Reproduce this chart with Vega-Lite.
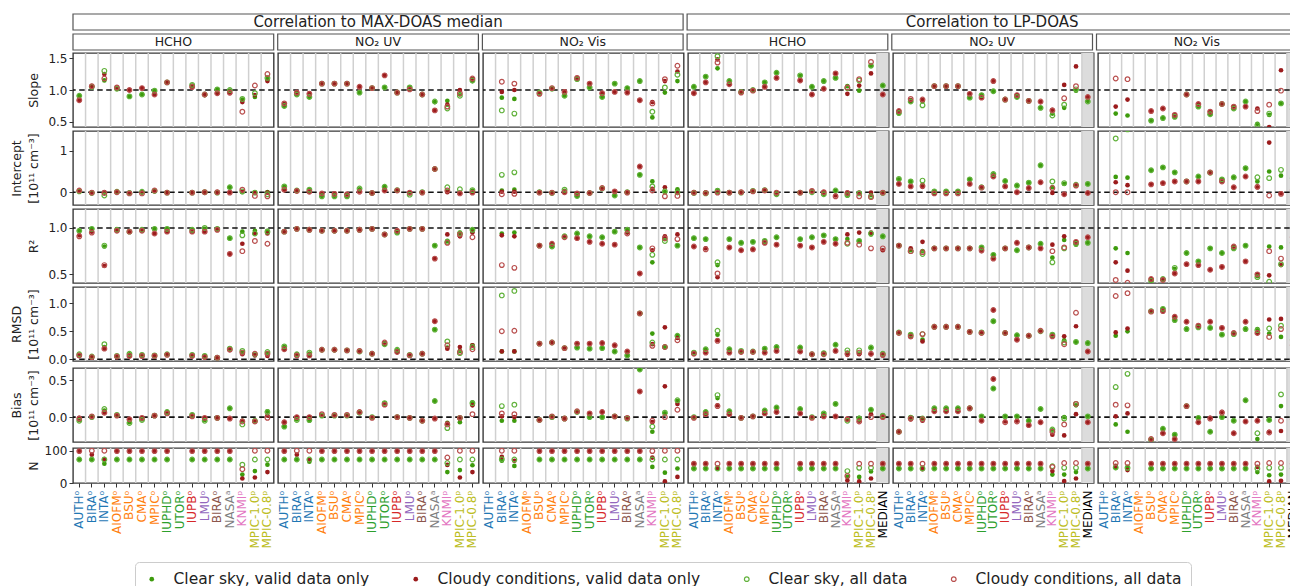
{
"$schema": "https://vega.github.io/schema/vega-lite/v6.json",
"padding": {"left": 10, "top": 13, "right": 0, "bottom": 0},
"data": {"values": "m;p;c;Clear sky, valid data only;Cloudy conditions, valid data only;Clear sky, all data;Cloudy conditions, all data\nS;1;A;.91;.84;.91;.84\nS;1;B;1.05;1.06;1.05;1.06\nS;1;C;1.15;1.25;1.3;1.18\nS;1;D;1.02;1.04;1.02;1.04\nS;1;E;.9;1;.9;1\nS;1;F;.93;1.03;.93;1.03\nS;1;G;.99;.93;.99;.93\nS;1;H;1.12;1.12;1.12;1.12\nS;1;I;;;;\nS;1;J;1.07;1.04;1.08;1.05\nS;1;K;.93;.92;.93;.93\nS;1;L;1.01;.95;1.01;.95\nS;1;M;.99;.95;1;.96\nS;1;N;.85;.81;.86;.66\nS;1;O;.89;.92;.95;1.07\nS;1;P;1.17;1.14;1.19;1.25\nS;2;A;.75;.78;.75;.79\nS;2;B;.93;.96;.93;.96\nS;2;C;.89;.95;.89;.94\nS;2;D;1.1;1.1;1.1;1.1\nS;2;E;1.1;1.1;1.1;1.1\nS;2;F;1.1;1.1;1.1;1.1\nS;2;G;.96;1.05;.96;1.05\nS;2;H;1.03;1.03;1.03;1.03\nS;2;I;1.04;1.23;1.04;1.23\nS;2;J;.96;.96;.96;.96\nS;2;K;1.04;1.01;1.04;1.01\nS;2;L;.93;.93;.93;.93\nS;2;M;.81;.68;.82;.68\nS;2;N;.83;.77;.71;.74\nS;2;O;.93;1;.91;.95\nS;2;P;1.14;1.17;1.15;1.18\nS;3;A;;;;\nS;3;B;.88;.97;.68;1.13\nS;3;C;.86;1;.63;1.1\nS;3;D;;;;\nS;3;E;.96;.94;.96;.94\nS;3;F;1.02;1.03;1.02;1.03\nS;3;G;.91;.98;.91;.97\nS;3;H;1.17;1.19;1.17;1.19\nS;3;I;1.04;1.1;1.04;1.1\nS;3;J;.89;.95;.89;.95\nS;3;K;1.1;.97;1.1;.97\nS;3;L;1.03;.96;1.03;.96\nS;3;M;1.14;.84;1.14;.84\nS;3;N;.57;.81;.66;.79\nS;3;O;.96;1.14;1.04;1.17\nS;3;P;1.14;1.29;1.24;1.38\nS;4;A;1.05;.95;1.05;.95\nS;4;B;1.21;1.12;1.21;1.12\nS;4;C;1.34;1.48;1.53;1.43\nS;4;D;1.14;1.09;1.14;1.09\nS;4;E;.97;.96;.97;.96\nS;4;F;1;.99;1;.99\nS;4;G;1.12;1.05;1.12;1.05\nS;4;H;1.27;1.19;1.27;1.19\nS;4;I;;;;\nS;4;J;1.22;1.15;1.23;1.15\nS;4;K;1.05;.93;1.05;.93\nS;4;L;1.14;1.02;1.14;1.02\nS;4;M;1.19;1.26;1.19;1.26\nS;4;N;1.06;.94;1.03;1.04\nS;4;O;.99;1.07;1.15;1.17\nS;4;P;1.38;1.26;1.38;1.44\nS;4;Q;1.07;.93;1.07;.93\nS;5;A;.63;.67;.64;.67\nS;5;B;.82;.84;.82;.86\nS;5;C;.82;.84;.76;.85\nS;5;D;1.06;1.06;1.06;1.06\nS;5;E;1.06;1.06;1.06;1.06\nS;5;F;1.06;1.06;1.06;1.06\nS;5;G;.88;.94;.88;.94\nS;5;H;.92;.88;.92;.88\nS;5;I;.98;1.14;.98;1.14\nS;5;J;.85;.85;.85;.85\nS;5;K;.89;.92;.89;.92\nS;5;L;.83;.83;.83;.83\nS;5;M;.72;.81;.72;.82\nS;5;N;.63;.69;.6;.68\nS;5;O;.72;1.08;.77;.87\nS;5;P;.99;1.37;1.01;1.06\nS;5;Q;.83;.89;.82;.89\nS;6;A;;;;\nS;6;B;.63;.74;.3;1.18\nS;6;C;.6;.85;.3;1.17\nS;6;D;;;;\nS;6;E;.52;.67;.52;.67\nS;6;F;.56;.71;.56;.71\nS;6;G;.58;.61;.58;.61\nS;6;H;.93;.93;.93;.93\nS;6;I;.74;.78;.74;.78\nS;6;J;.62;.66;.62;.66\nS;6;K;.78;.78;.78;.78\nS;6;L;.71;.74;.71;.74\nS;6;M;.82;.74;.82;.74\nS;6;N;.47;.71;.45;.67\nS;6;O;.61;.42;.63;.77\nS;6;P;.79;1.31;.79;.99\nS;6;Q;.7;.77;.7;.77\nI;1;A;.03;.04;.02;.04\nI;1;B;-.01;-.01;-.02;-.01\nI;1;C;-.01;0;-.08;-.02\nI;1;D;.01;0;.01;0\nI;1;E;-.02;-.01;-.02;-.03\nI;1;F;0;-.01;.01;-.03\nI;1;G;.03;.04;.03;.04\nI;1;H;-.01;-.01;-.01;-.01\nI;1;I;;;;\nI;1;J;-.01;-.01;-.01;-.01\nI;1;K;-.01;0;0;0\nI;1;L;-.01;0;-.01;0\nI;1;M;.12;0;.12;-.01\nI;1;N;0;.01;.02;.06\nI;1;O;-.01;-.01;-.01;-.09\nI;1;P;0;-.01;-.05;-.1\nI;2;A;.13;.06;.14;.06\nI;2;B;.04;.03;.04;.03\nI;2;C;.05;.01;.06;.01\nI;2;D;-.09;-.03;-.1;-.03\nI;2;E;-.09;-.03;-.1;-.04\nI;2;F;-.1;-.05;-.1;-.05\nI;2;G;.07;.02;.09;.01\nI;2;H;-.02;-.02;-.02;-.02\nI;2;I;.13;.04;.13;.04\nI;2;J;.04;.04;.05;.04\nI;2;K;-.03;-.01;-.06;-.01\nI;2;L;0;-.01;0;-.01\nI;2;M;.56;.56;.56;.56\nI;2;N;.02;0;.12;.04\nI;2;O;-.01;-.02;.07;-.03\nI;2;P;.04;-.01;.05;-.01\nI;3;A;;;;\nI;3;B;.04;.01;.42;-.05\nI;3;C;.06;.01;.48;-.04\nI;3;D;;;;\nI;3;E;0;-.01;0;-.01\nI;3;F;-.01;-.02;-.02;-.01\nI;3;G;.03;-.01;.06;0\nI;3;H;-.1;-.03;-.09;-.03\nI;3;I;-.02;-.02;-.02;-.02\nI;3;J;.09;.1;.09;.1\nI;3;K;-.08;.02;-.08;.02\nI;3;L;-.01;0;0;-.01\nI;3;M;.42;.62;.42;.62\nI;3;N;.26;.08;.14;.04\nI;3;O;0;.12;.02;-.1\nI;3;P;.07;-.02;0;-.09\nI;4;A;0;-.01;-.02;-.01\nI;4;B;-.01;-.01;-.03;-.02\nI;4;C;.05;0;.03;-.01\nI;4;D;-.01;-.01;-.01;-.01\nI;4;E;-.01;0;-.01;0\nI;4;F;.03;.02;.03;.02\nI;4;G;.05;.04;.05;.04\nI;4;H;-.04;-.01;-.05;-.01\nI;4;I;;;;\nI;4;J;-.01;-.01;-.01;-.01\nI;4;K;.02;.03;0;.03\nI;4;L;-.04;0;-.05;0\nI;4;M;.03;-.08;.04;-.1\nI;4;N;-.06;-.01;-.07;-.02\nI;4;O;-.02;-.01;-.03;-.1\nI;4;P;-.07;-.01;-.1;-.12\nI;4;Q;-.01;-.01;-.02;-.01\nI;5;A;.31;.2;.32;.2\nI;5;B;.26;.14;.26;.14\nI;5;C;.18;.13;.28;.15\nI;5;D;.02;-.03;.02;-.03\nI;5;E;.02;-.03;.02;-.03\nI;5;F;.02;-.02;.02;-.03\nI;5;G;.31;.2;.31;.2\nI;5;H;.12;.12;.12;.11\nI;5;I;.43;.38;.44;.38\nI;5;J;.27;.14;.27;.14\nI;5;K;.16;0;.16;0\nI;5;L;.23;.1;.23;.1\nI;5;M;.65;.24;.65;.24\nI;5;N;.12;-.02;.26;.1\nI;5;O;.2;-.05;.22;-.05\nI;5;P;.18;.16;.18;.16\nI;5;Q;.2;-.02;.2;-.02\nI;6;A;;;;\nI;6;B;.37;.24;1.3;0\nI;6;C;.35;.17;1.52;0\nI;6;D;;;;\nI;6;E;.53;.19;.53;.19\nI;6;F;.6;.22;.6;.22\nI;6;G;.48;.26;.48;.26\nI;6;H;.26;.26;.26;.26\nI;6;I;.38;.26;.38;.26\nI;6;J;.47;.48;.47;.48\nI;6;K;.31;.26;.31;.26\nI;6;L;.36;.12;.36;.12\nI;6;M;.58;.38;.58;.38\nI;6;N;.26;.12;.36;.13\nI;6;O;.5;1.2;.34;-.08\nI;6;P;.4;-.03;.54;-.04\nI;6;Q;.34;.05;.34;.05\nR;1;A;.97;.92;.97;.91\nR;1;B;.99;.96;.99;.95\nR;1;C;.8;.59;.81;.6\nR;1;D;.98;.97;.98;.97\nR;1;E;.96;.96;.96;.96\nR;1;F;.98;.97;.98;.97\nR;1;G;.99;.94;.99;.94\nR;1;H;.99;.96;.99;.96\nR;1;I;;;;\nR;1;J;.98;.96;.98;.96\nR;1;K;.99;.96;1;.96\nR;1;L;.99;.98;.99;.98\nR;1;M;.89;.72;.89;.72\nR;1;N;.96;.83;.92;.75\nR;1;O;.97;.94;.94;.86\nR;1;P;.97;.94;.96;.83\nR;2;A;.96;.96;.96;.96\nR;2;B;.99;.99;.99;.99\nR;2;C;.98;.98;.98;.98\nR;2;D;.97;.97;.97;.97\nR;2;E;.97;.97;.97;.97\nR;2;F;.97;.97;.97;.97\nR;2;G;.98;.98;.98;.98\nR;2;H;.99;.99;.99;.99\nR;2;I;.93;.93;.93;.93\nR;2;J;.95;.97;.95;.97\nR;2;K;.99;.99;.99;.99\nR;2;L;.99;.99;.99;.99\nR;2;M;.81;.67;.81;.67\nR;2;N;.86;.93;.85;.84\nR;2;O;.95;.91;.94;.93\nR;2;P;.98;.95;.98;.9\nR;3;A;;;;\nR;3;B;.94;.92;.3;.6\nR;3;C;.95;.91;.3;.57\nR;3;D;;;;\nR;3;E;.81;.81;.81;.81\nR;3;F;.8;.83;.8;.83\nR;3;G;.91;.9;.91;.9\nR;3;H;.94;.89;.94;.89\nR;3;I;.91;.85;.91;.85\nR;3;J;.9;.83;.9;.83\nR;3;K;.96;.82;.96;.82\nR;3;L;.98;.95;.98;.94\nR;3;M;.79;.51;.79;.51\nR;3;N;.63;.76;.71;.78\nR;3;O;.88;.91;.86;.89\nR;3;P;.81;.93;.81;.88\nR;4;A;.89;.8;.89;.8\nR;4;B;.88;.78;.88;.77\nR;4;C;.6;.47;.63;.51\nR;4;D;.88;.79;.88;.79\nR;4;E;.84;.76;.84;.76\nR;4;F;.85;.77;.85;.77\nR;4;G;.86;.84;.86;.84\nR;4;H;.9;.82;.9;.82\nR;4;I;;;;\nR;4;J;.88;.81;.88;.81\nR;4;K;.9;.79;.9;.79\nR;4;L;.92;.85;.92;.85\nR;4;M;.88;.83;.88;.83\nR;4;N;.88;.93;.83;.84\nR;4;O;.86;.95;.86;.82\nR;4;P;.93;.95;.94;.78\nR;4;Q;.91;.76;.91;.78\nR;5;A;.81;.81;.81;.81\nR;5;B;.76;.78;.75;.75\nR;5;C;.75;.85;.72;.74\nR;5;D;.78;.78;.78;.78\nR;5;E;.78;.78;.78;.78\nR;5;F;.78;.78;.78;.78\nR;5;G;.78;.78;.78;.78\nR;5;H;.79;.75;.79;.76\nR;5;I;.71;.67;.71;.67\nR;5;J;.78;.78;.78;.78\nR;5;K;.76;.84;.76;.84\nR;5;L;.79;.79;.79;.79\nR;5;M;.83;.78;.83;.78\nR;5;N;.68;.82;.63;.75\nR;5;O;.87;.91;.78;.79\nR;5;P;.82;.85;.83;.85\nR;5;Q;.84;.9;.84;.9\nR;6;A;;;;\nR;6;B;.78;.63;.3;.44\nR;6;C;.73;.54;.3;.41\nR;6;D;;;;\nR;6;E;.43;.45;.43;.45\nR;6;F;.45;.44;.45;.44\nR;6;G;.56;.51;.57;.51\nR;6;H;.73;.61;.73;.61\nR;6;I;.64;.6;.64;.6\nR;6;J;.78;.55;.78;.55\nR;6;K;.73;.58;.73;.58\nR;6;L;.78;.8;.78;.8\nR;6;M;.81;.64;.81;.64\nR;6;N;.48;.5;.47;.5\nR;6;O;.8;.49;.42;.75\nR;6;P;.79;.6;.61;.67\nR;6;Q;.84;.9;.84;.9\nM;1;A;.08;.06;.09;.07\nM;1;B;.04;.03;.05;.04\nM;1;C;.22;.19;.27;.19\nM;1;D;.05;.04;.06;.05\nM;1;E;.09;.06;.1;.06\nM;1;F;.08;.05;.08;.06\nM;1;G;.07;.06;.07;.06\nM;1;H;.09;.08;.09;.08\nM;1;I;;;;\nM;1;J;.08;.06;.08;.06\nM;1;K;.06;.04;.06;.04\nM;1;L;.03;.03;.03;.03\nM;1;M;.19;.17;.19;.17\nM;1;N;.12;.09;.15;.12\nM;1;O;.08;.07;.09;.1\nM;1;P;.1;.06;.13;.1\nM;2;A;.22;.18;.23;.18\nM;2;B;.09;.06;.09;.07\nM;2;C;.1;.06;.12;.07\nM;2;D;.17;.17;.17;.17\nM;2;E;.17;.17;.17;.17\nM;2;F;.16;.16;.16;.16\nM;2;G;.14;.15;.14;.15\nM;2;H;.1;.1;.1;.1\nM;2;I;.27;.29;.27;.3\nM;2;J;.16;.13;.17;.13\nM;2;K;.08;.07;.08;.07\nM;2;L;.1;.1;.1;.1\nM;2;M;.53;.68;.53;.68\nM;2;N;.21;.19;.32;.25\nM;2;O;.15;.22;.11;.13\nM;2;P;.25;.25;.22;.18\nM;3;A;;;;\nM;3;B;.14;.14;1.14;.5\nM;3;C;.14;.14;1.22;.51\nM;3;D;;;;\nM;3;E;.28;.28;.28;.28\nM;3;F;.3;.3;.3;.3\nM;3;G;.2;.2;.2;.2\nM;3;H;.21;.28;.21;.28\nM;3;I;.19;.28;.19;.28\nM;3;J;.2;.29;.2;.29\nM;3;K;.14;.25;.14;.25\nM;3;L;.07;.14;.07;.14\nM;3;M;.82;.82;.82;.82\nM;3;N;.46;.27;.3;.24\nM;3;O;.22;.57;.22;.22\nM;3;P;.42;.38;.42;.34\nM;4;A;.12;.1;.12;.1\nM;4;B;.18;.12;.18;.12\nM;4;C;.44;.34;.51;.33\nM;4;D;.18;.12;.18;.12\nM;4;E;.14;.13;.15;.13\nM;4;F;.14;.13;.14;.13\nM;4;G;.19;.12;.19;.12\nM;4;H;.22;.15;.22;.15\nM;4;I;;;;\nM;4;J;.21;.14;.21;.14\nM;4;K;.09;.09;.09;.09\nM;4;L;.11;.09;.11;.09\nM;4;M;.26;.15;.26;.15\nM;4;N;.12;.08;.16;.1\nM;4;O;.1;.09;.16;.12\nM;4;P;.2;.09;.21;.1\nM;4;Q;.1;.07;.1;.08\nM;5;A;.48;.47;.48;.47\nM;5;B;.44;.4;.44;.41\nM;5;C;.35;.32;.45;.45\nM;5;D;.58;.58;.58;.58\nM;5;E;.58;.58;.58;.58\nM;5;F;.58;.58;.58;.58\nM;5;G;.49;.49;.49;.49\nM;5;H;.48;.48;.48;.47\nM;5;I;.68;.88;.68;.88\nM;5;J;.47;.47;.47;.47\nM;5;K;.43;.35;.43;.35\nM;5;L;.42;.42;.42;.42\nM;5;M;.5;.51;.5;.51\nM;5;N;.44;.41;.44;.41\nM;5;O;.34;.41;.3;.27\nM;5;P;.31;.59;.31;.83\nM;5;Q;.29;.14;.29;.14\nM;6;A;;;;\nM;6;B;.42;.48;1.5;1.13\nM;6;C;.5;.55;1.5;1.18\nM;6;D;;;;\nM;6;E;.86;.85;.86;.85\nM;6;F;.9;.86;.9;.86\nM;6;G;.7;.76;.7;.76\nM;6;H;.54;.67;.54;.67\nM;6;I;.57;.6;.57;.6\nM;6;J;.56;.67;.56;.67\nM;6;K;.44;.56;.44;.56\nM;6;L;.45;.47;.45;.47\nM;6;M;.54;.67;.54;.67\nM;6;N;.54;.47;.52;.47\nM;6;O;.46;.71;.55;.4\nM;6;P;.4;.72;.6;.54\nM;6;Q;.35;.25;.35;.25\nB;1;A;-.04;-.01;-.05;-.02\nB;1;B;0;.01;0;.01\nB;1;C;.09;.06;.11;.06\nB;1;D;.03;.02;.03;.02\nB;1;E;-.07;-.03;-.08;-.03\nB;1;F;-.03;-.01;-.04;-.01\nB;1;G;.02;.02;.02;.02\nB;1;H;.07;.05;.07;.05\nB;1;I;;;;\nB;1;J;.03;.01;.03;.01\nB;1;K;-.04;-.01;-.05;-.01\nB;1;L;-.01;-.01;-.01;-.01\nB;1;M;.12;-.02;.12;-.02\nB;1;N;-.05;-.05;-.1;-.06\nB;1;O;-.05;-.06;-.05;-.06\nB;1;P;.08;.02;.07;-.01\nB;2;A;-.13;-.07;-.13;-.07\nB;2;B;-.03;0;-.04;0\nB;2;C;-.05;0;-.04;0\nB;2;D;.02;.03;.02;.04\nB;2;E;.02;.03;.02;.03\nB;2;F;.02;.03;.02;.03\nB;2;G;.06;.07;.06;.07\nB;2;H;0;-.01;0;-.01\nB;2;I;.19;.17;.19;.17\nB;2;J;0;0;0;0\nB;2;K;-.01;-.01;-.01;-.01\nB;2;L;-.05;-.05;-.05;-.05\nB;2;M;.22;-.02;.22;-.02\nB;2;N;-.08;-.09;-.15;-.1\nB;2;O;-.07;-.02;-.01;-.01\nB;2;P;.2;.16;.19;.04\nB;3;A;;;;\nB;3;B;-.05;.01;.15;.05\nB;3;C;-.05;0;.17;.04\nB;3;D;;;;\nB;3;E;-.03;-.04;-.04;-.04\nB;3;F;0;.01;0;.01\nB;3;G;-.02;-.02;-.02;-.02\nB;3;H;.07;.08;.07;.08\nB;3;I;0;.05;0;.05\nB;3;J;0;.07;0;.07\nB;3;K;.01;.01;.01;.01\nB;3;L;-.02;-.01;-.02;-.01\nB;3;M;.65;.35;.65;.35\nB;3;N;-.2;-.07;-.13;-.05\nB;3;O;.05;.42;.06;0\nB;3;P;.22;.18;.23;.1\nB;4;A;0;-.01;0;-.01\nB;4;B;.07;.04;.07;.04\nB;4;C;.26;.16;.3;.15\nB;4;D;.08;.04;.08;.04\nB;4;E;-.01;-.01;-.01;-.01\nB;4;F;.01;.01;.01;.01\nB;4;G;.09;.05;.09;.05\nB;4;H;.13;.07;.13;.07\nB;4;I;;;;\nB;4;J;.11;.05;.11;.05\nB;4;K;0;-.01;0;-.01\nB;4;L;.04;.01;.05;.01\nB;4;M;.18;.01;.18;.01\nB;4;N;-.03;-.02;-.05;-.03\nB;4;O;-.01;-.05;-.02;-.06\nB;4;P;.1;.04;.1;0\nB;4;Q;.02;0;.02;0\nB;5;A;-.2;-.2;-.2;-.2\nB;5;B;0;-.03;-.01;-.02\nB;5;C;-.03;-.05;-.02;-.03\nB;5;D;.12;.08;.12;.08\nB;5;E;.12;.08;.12;.08\nB;5;F;.12;.08;.12;.08\nB;5;G;.12;.12;.12;.12\nB;5;H;.01;-.05;.01;-.05\nB;5;I;.39;.52;.39;.52\nB;5;J;.01;-.06;.01;-.07\nB;5;K;.01;-.05;.01;-.06\nB;5;L;-.05;-.11;-.05;-.11\nB;5;M;.11;-.07;.11;-.07\nB;5;N;-.18;-.24;-.17;-.2\nB;5;O;0;-.25;-.02;-.1\nB;5;P;.16;.04;.18;.18\nB;5;Q;.01;-.07;.01;-.07\nB;6;A;;;;\nB;6;B;-.1;.01;.41;.17\nB;6;C;-.2;.05;.59;.16\nB;6;D;;;;\nB;6;E;-.31;-.3;-.31;-.3\nB;6;F;-.16;-.22;-.16;-.22\nB;6;G;-.24;-.3;-.24;-.3\nB;6;H;.15;.15;.15;.15\nB;6;I;-.01;-.07;-.01;-.07\nB;6;J;-.2;-.01;-.2;-.02\nB;6;K;0;.07;0;.06\nB;6;L;-.05;-.22;-.05;-.22\nB;6;M;.23;-.06;.23;-.06\nB;6;N;-.3;-.05;-.22;-.05\nB;6;O;-.04;-.2;-.04;-.21\nB;6;P;.15;-.19;.31;-.05\nB;6;Q;0;-.03;0;-.03\nN;1;A;73;99;73;99\nN;1;B;73;88;73;100\nN;1;C;60;74;73;100\nN;1;D;73;99;73;99\nN;1;E;73;99;73;99\nN;1;F;73;99;73;99\nN;1;G;73;99;73;99\nN;1;H;73;99;73;99\nN;1;I;;;;\nN;1;J;73;99;73;99\nN;1;K;73;99;73;99\nN;1;L;73;99;73;99\nN;1;M;73;99;73;99\nN;1;N;26;14;57;43\nN;1;O;37;17;73;100\nN;1;P;57;34;73;100\nN;2;A;73;99;73;99\nN;2;B;73;88;73;100\nN;2;C;66;71;73;100\nN;2;D;73;99;73;99\nN;2;E;73;99;73;99\nN;2;F;73;99;73;99\nN;2;G;73;99;73;99\nN;2;H;73;99;73;99\nN;2;I;73;99;73;99\nN;2;J;73;99;73;99\nN;2;K;73;99;73;99\nN;2;L;73;99;73;99\nN;2;M;73;99;73;99\nN;2;N;34;56;62;79\nN;2;O;40;17;73;100\nN;2;P;55;34;73;100\nN;3;A;;;;\nN;3;B;69;81;74;100\nN;3;C;53;69;73;100\nN;3;D;;;;\nN;3;E;73;99;73;99\nN;3;F;73;99;73;99\nN;3;G;73;99;73;99\nN;3;H;73;99;73;99\nN;3;I;73;99;73;99\nN;3;J;73;99;73;99\nN;3;K;73;99;73;99\nN;3;L;73;99;73;99\nN;3;M;73;99;73;99\nN;3;N;50;79;73;99\nN;3;O;32;5;73;100\nN;3;P;45;19;73;100\nN;4;A;45;60;45;60\nN;4;B;45;60;45;60\nN;4;C;45;47;45;60\nN;4;D;45;60;45;60\nN;4;E;45;60;45;60\nN;4;F;45;60;45;60\nN;4;G;45;60;45;60\nN;4;H;45;60;45;60\nN;4;I;;;;\nN;4;J;45;60;45;60\nN;4;K;45;60;45;60\nN;4;L;45;60;45;60\nN;4;M;45;60;45;60\nN;4;N;19;8;37;22\nN;4;O;19;5;47;60\nN;4;P;36;14;47;60\nN;4;Q;45;60;45;60\nN;5;A;45;60;45;60\nN;5;B;45;60;45;60\nN;5;C;47;43;45;60\nN;5;D;45;60;45;60\nN;5;E;45;60;45;60\nN;5;F;45;60;45;60\nN;5;G;45;60;45;60\nN;5;H;45;60;45;60\nN;5;I;45;60;45;60\nN;5;J;45;60;45;60\nN;5;K;45;60;45;60\nN;5;L;45;60;45;60\nN;5;M;45;60;45;60\nN;5;N;26;37;52;50\nN;5;O;26;6;47;62\nN;5;P;34;14;47;62\nN;5;Q;45;60;45;60\nN;6;A;;;;\nN;6;B;47;53;48;62\nN;6;C;50;40;47;62\nN;6;D;;;;\nN;6;E;45;60;45;60\nN;6;F;45;60;45;60\nN;6;G;45;60;45;60\nN;6;H;45;60;45;60\nN;6;I;45;60;45;60\nN;6;J;45;60;45;60\nN;6;K;45;60;45;60\nN;6;L;45;60;45;60\nN;6;M;45;60;45;60\nN;6;N;34;50;45;60\nN;6;O;24;5;47;62\nN;6;P;26;7;47;62\nN;6;Q;45;60;45;60", "format": {"type": "dsv", "delimiter": ";", "parse": {"m": "string", "p": "string", "c": "string", "Clear sky, valid data only": "number", "Cloudy conditions, valid data only": "number", "Clear sky, all data": "number", "Cloudy conditions, all data": "number"}}},
"transform": [{"fold": ["Clear sky, valid data only", "Cloudy conditions, valid data only", "Clear sky, all data", "Cloudy conditions, all data"], "as": ["s", "v"]}],
"spacing": 0,
"vconcat": [
{"data": {"values": [{"g": "Correlation to MAX-DOAS median", "r": "a"}, {"g": "Correlation to LP-DOAS", "r": "a"}]},
 "width": 1224.2, "height": 19, "view": {"stroke": null},
 "encoding": {"x": {"field": "g", "type": "nominal", "sort": null, "axis": null, "scale": {"paddingInner": 0.006514, "paddingOuter": 0}},
   "y": {"field": "r", "type": "nominal", "axis": null, "scale": {"paddingInner": 0, "paddingOuter": 0.09375, "align": 0}}},
 "layer": [
  {"mark": {"type": "rect", "fillOpacity": 0, "stroke": "#555555", "strokeWidth": 1.2}},
  {"mark": {"type": "text", "fontSize": 15, "color": "#222222", "baseline": "middle"}, "encoding": {"text": {"field": "g"}}}
 ]},
{"data": {"values": [{"p": "1", "t": "HCHO"}, {"p": "2", "t": "NO₂ UV"}, {"p": "3", "t": "NO₂ Vis"}, {"p": "4", "t": "HCHO"}, {"p": "5", "t": "NO₂ UV"}, {"p": "6", "t": "NO₂ Vis"}]},
 "width": 1224.2, "height": 16, "view": {"stroke": null},
 "encoding": {"x": {"field": "p", "type": "nominal", "axis": null, "scale": {"paddingInner": 0.01954, "paddingOuter": 0}}},
 "layer": [
  {"mark": {"type": "rect", "fillOpacity": 0, "stroke": "#555555", "strokeWidth": 1.2}},
  {"mark": {"type": "text", "fontSize": 12.5, "color": "#222222", "baseline": "middle"}, "encoding": {"text": {"field": "t"}}}
 ]},
{"transform": [{"filter": "datum.m=='S'"}],
 "facet": {"column": {"field": "p", "type": "ordinal", "header": {"labels": false, "title": null}}},
 "spacing": 4, "bounds": "flush", "resolve": {"scale": {"x": "independent"}},
 "spec": {"width": 200.7, "height": 74, "layer": [
  {"transform": [{"filter": "datum.s=='Clear sky, all data' && datum.c=='Q'"}], "mark": {"type": "rect", "fill": "#dcdcdc", "clip": true},
   "encoding": {"x": {"field": "c", "type": "nominal", "scale": {"paddingInner": 0, "paddingOuter": 0}, "axis": null}, "y": {"datum": -1000, "type": "quantitative", "scale": {"domain": [0.42, 1.58]}, "axis": {"values": [0.5, 1, 1.5], "format": ".1f", "title": "Slope", "titleX": -33}}, "y2": {"datum": 1000}}},
  {"transform": [{"filter": "datum.s=='Clear sky, all data' && datum.c!='Q' && !(datum.c=='P' && datum.p<'4')"}], "mark": {"type": "rule", "color": "#d0d0d0", "strokeWidth": 1.5},
   "encoding": {"x": {"field": "c", "type": "nominal", "bandPosition": 1, "scale": {"paddingInner": 0, "paddingOuter": 0}, "axis": null}}},
  {"transform": [{"filter": "datum.s=='Clear sky, all data' && datum.c=='A'"}], "mark": {"type": "rule", "color": "#111111", "strokeWidth": 1.6, "strokeDash": [5.5, 3.5]},
   "encoding": {"y": {"datum": 1, "type": "quantitative", "scale": {"domain": [0.42, 1.58]}, "axis": {"values": [0.5, 1, 1.5], "format": ".1f", "title": "Slope", "titleX": -33}}}},
  {"transform": [{"filter": {"field": "v", "valid": true}}], "mark": {"type": "circle", "opacity": 1, "strokeWidth": 1.2, "clip": true},
   "encoding": {"x": {"field": "c", "type": "nominal", "scale": {"paddingInner": 0, "paddingOuter": 0}, "axis": null},
    "y": {"field": "v", "type": "quantitative", "scale": {"domain": [0.42, 1.58]}, "axis": {"values": [0.5, 1, 1.5], "format": ".1f", "title": "Slope", "titleX": -33}},
    "fill": {"field": "s", "type": "nominal", "scale": {"domain": ["Clear sky, valid data only", "Cloudy conditions, valid data only", "Clear sky, all data", "Cloudy conditions, all data"], "range": ["#3d9b0c", "#9b1b1c", "transparent", "transparent"]}, "legend": {"title": null}},
    "stroke": {"field": "s", "type": "nominal", "scale": {"domain": ["Clear sky, valid data only", "Cloudy conditions, valid data only", "Clear sky, all data", "Cloudy conditions, all data"], "range": ["transparent", "transparent", "#62b23c", "#b9504f"]}, "legend": {"title": null}},
    "size": {"field": "s", "type": "nominal", "scale": {"domain": ["Clear sky, valid data only", "Cloudy conditions, valid data only", "Clear sky, all data", "Cloudy conditions, all data"], "range": [22, 22, 72, 72]}, "legend": {"title": null}}}}
 ]}},
{"transform": [{"filter": "datum.m=='I'"}],
 "facet": {"column": {"field": "p", "type": "ordinal", "header": {"labels": false, "title": null}}},
 "spacing": 4, "bounds": "flush", "resolve": {"scale": {"x": "independent"}},
 "spec": {"width": 200.7, "height": 74, "layer": [
  {"transform": [{"filter": "datum.s=='Clear sky, all data' && datum.c=='Q'"}], "mark": {"type": "rect", "fill": "#dcdcdc", "clip": true},
   "encoding": {"x": {"field": "c", "type": "nominal", "scale": {"paddingInner": 0, "paddingOuter": 0}, "axis": null}, "y": {"datum": -1000, "type": "quantitative", "scale": {"domain": [-0.31, 1.48]}, "axis": {"values": [0, 1], "format": "d", "title": ["Intercept", "[10¹¹ cm⁻³]"], "titleX": -50}}, "y2": {"datum": 1000}}},
  {"transform": [{"filter": "datum.s=='Clear sky, all data' && datum.c!='Q' && !(datum.c=='P' && datum.p<'4')"}], "mark": {"type": "rule", "color": "#d0d0d0", "strokeWidth": 1.5},
   "encoding": {"x": {"field": "c", "type": "nominal", "bandPosition": 1, "scale": {"paddingInner": 0, "paddingOuter": 0}, "axis": null}}},
  {"transform": [{"filter": "datum.s=='Clear sky, all data' && datum.c=='A'"}], "mark": {"type": "rule", "color": "#111111", "strokeWidth": 1.6, "strokeDash": [5.5, 3.5]},
   "encoding": {"y": {"datum": 0, "type": "quantitative", "scale": {"domain": [-0.31, 1.48]}, "axis": {"values": [0, 1], "format": "d", "title": ["Intercept", "[10¹¹ cm⁻³]"], "titleX": -50}}}},
  {"transform": [{"filter": {"field": "v", "valid": true}}], "mark": {"type": "circle", "opacity": 1, "strokeWidth": 1.2, "clip": true},
   "encoding": {"x": {"field": "c", "type": "nominal", "scale": {"paddingInner": 0, "paddingOuter": 0}, "axis": null},
    "y": {"field": "v", "type": "quantitative", "scale": {"domain": [-0.31, 1.48]}, "axis": {"values": [0, 1], "format": "d", "title": ["Intercept", "[10¹¹ cm⁻³]"], "titleX": -50}},
    "fill": {"field": "s", "type": "nominal", "scale": {"domain": ["Clear sky, valid data only", "Cloudy conditions, valid data only", "Clear sky, all data", "Cloudy conditions, all data"], "range": ["#3d9b0c", "#9b1b1c", "transparent", "transparent"]}, "legend": {"title": null}},
    "stroke": {"field": "s", "type": "nominal", "scale": {"domain": ["Clear sky, valid data only", "Cloudy conditions, valid data only", "Clear sky, all data", "Cloudy conditions, all data"], "range": ["transparent", "transparent", "#62b23c", "#b9504f"]}, "legend": {"title": null}},
    "size": {"field": "s", "type": "nominal", "scale": {"domain": ["Clear sky, valid data only", "Cloudy conditions, valid data only", "Clear sky, all data", "Cloudy conditions, all data"], "range": [22, 22, 72, 72]}, "legend": {"title": null}}}}
 ]}},
{"transform": [{"filter": "datum.m=='R'"}],
 "facet": {"column": {"field": "p", "type": "ordinal", "header": {"labels": false, "title": null}}},
 "spacing": 4, "bounds": "flush", "resolve": {"scale": {"x": "independent"}},
 "spec": {"width": 200.7, "height": 74, "layer": [
  {"transform": [{"filter": "datum.s=='Clear sky, all data' && datum.c=='Q'"}], "mark": {"type": "rect", "fill": "#dcdcdc", "clip": true},
   "encoding": {"x": {"field": "c", "type": "nominal", "scale": {"paddingInner": 0, "paddingOuter": 0}, "axis": null}, "y": {"datum": -1000, "type": "quantitative", "scale": {"domain": [0.407, 1.204]}, "axis": {"values": [0.5, 1], "format": ".1f", "title": "R²", "titleX": -33}}, "y2": {"datum": 1000}}},
  {"transform": [{"filter": "datum.s=='Clear sky, all data' && datum.c!='Q' && !(datum.c=='P' && datum.p<'4')"}], "mark": {"type": "rule", "color": "#d0d0d0", "strokeWidth": 1.5},
   "encoding": {"x": {"field": "c", "type": "nominal", "bandPosition": 1, "scale": {"paddingInner": 0, "paddingOuter": 0}, "axis": null}}},
  {"transform": [{"filter": "datum.s=='Clear sky, all data' && datum.c=='A'"}], "mark": {"type": "rule", "color": "#111111", "strokeWidth": 1.6, "strokeDash": [5.5, 3.5]},
   "encoding": {"y": {"datum": 1, "type": "quantitative", "scale": {"domain": [0.407, 1.204]}, "axis": {"values": [0.5, 1], "format": ".1f", "title": "R²", "titleX": -33}}}},
  {"transform": [{"filter": {"field": "v", "valid": true}}], "mark": {"type": "circle", "opacity": 1, "strokeWidth": 1.2, "clip": true},
   "encoding": {"x": {"field": "c", "type": "nominal", "scale": {"paddingInner": 0, "paddingOuter": 0}, "axis": null},
    "y": {"field": "v", "type": "quantitative", "scale": {"domain": [0.407, 1.204]}, "axis": {"values": [0.5, 1], "format": ".1f", "title": "R²", "titleX": -33}},
    "fill": {"field": "s", "type": "nominal", "scale": {"domain": ["Clear sky, valid data only", "Cloudy conditions, valid data only", "Clear sky, all data", "Cloudy conditions, all data"], "range": ["#3d9b0c", "#9b1b1c", "transparent", "transparent"]}, "legend": {"title": null}},
    "stroke": {"field": "s", "type": "nominal", "scale": {"domain": ["Clear sky, valid data only", "Cloudy conditions, valid data only", "Clear sky, all data", "Cloudy conditions, all data"], "range": ["transparent", "transparent", "#62b23c", "#b9504f"]}, "legend": {"title": null}},
    "size": {"field": "s", "type": "nominal", "scale": {"domain": ["Clear sky, valid data only", "Cloudy conditions, valid data only", "Clear sky, all data", "Cloudy conditions, all data"], "range": [22, 22, 72, 72]}, "legend": {"title": null}}}}
 ]}},
{"transform": [{"filter": "datum.m=='M'"}],
 "facet": {"column": {"field": "p", "type": "ordinal", "header": {"labels": false, "title": null}}},
 "spacing": 4, "bounds": "flush", "resolve": {"scale": {"x": "independent"}},
 "spec": {"width": 200.7, "height": 74, "layer": [
  {"transform": [{"filter": "datum.s=='Clear sky, all data' && datum.c=='Q'"}], "mark": {"type": "rect", "fill": "#dcdcdc", "clip": true},
   "encoding": {"x": {"field": "c", "type": "nominal", "scale": {"paddingInner": 0, "paddingOuter": 0}, "axis": null}, "y": {"datum": -1000, "type": "quantitative", "scale": {"domain": [-0.03, 1.29]}, "axis": {"values": [0, 0.5, 1], "format": ".1f", "title": ["RMSD", "[10¹¹ cm⁻³]"], "titleX": -50}}, "y2": {"datum": 1000}}},
  {"transform": [{"filter": "datum.s=='Clear sky, all data' && datum.c!='Q' && !(datum.c=='P' && datum.p<'4')"}], "mark": {"type": "rule", "color": "#d0d0d0", "strokeWidth": 1.5},
   "encoding": {"x": {"field": "c", "type": "nominal", "bandPosition": 1, "scale": {"paddingInner": 0, "paddingOuter": 0}, "axis": null}}},
  {"transform": [{"filter": "datum.s=='Clear sky, all data' && datum.c=='A'"}], "mark": {"type": "rule", "color": "#111111", "strokeWidth": 1.6, "strokeDash": [5.5, 3.5]},
   "encoding": {"y": {"datum": 0, "type": "quantitative", "scale": {"domain": [-0.03, 1.29]}, "axis": {"values": [0, 0.5, 1], "format": ".1f", "title": ["RMSD", "[10¹¹ cm⁻³]"], "titleX": -50}}}},
  {"transform": [{"filter": {"field": "v", "valid": true}}], "mark": {"type": "circle", "opacity": 1, "strokeWidth": 1.2, "clip": true},
   "encoding": {"x": {"field": "c", "type": "nominal", "scale": {"paddingInner": 0, "paddingOuter": 0}, "axis": null},
    "y": {"field": "v", "type": "quantitative", "scale": {"domain": [-0.03, 1.29]}, "axis": {"values": [0, 0.5, 1], "format": ".1f", "title": ["RMSD", "[10¹¹ cm⁻³]"], "titleX": -50}},
    "fill": {"field": "s", "type": "nominal", "scale": {"domain": ["Clear sky, valid data only", "Cloudy conditions, valid data only", "Clear sky, all data", "Cloudy conditions, all data"], "range": ["#3d9b0c", "#9b1b1c", "transparent", "transparent"]}, "legend": {"title": null}},
    "stroke": {"field": "s", "type": "nominal", "scale": {"domain": ["Clear sky, valid data only", "Cloudy conditions, valid data only", "Clear sky, all data", "Cloudy conditions, all data"], "range": ["transparent", "transparent", "#62b23c", "#b9504f"]}, "legend": {"title": null}},
    "size": {"field": "s", "type": "nominal", "scale": {"domain": ["Clear sky, valid data only", "Cloudy conditions, valid data only", "Clear sky, all data", "Cloudy conditions, all data"], "range": [22, 22, 72, 72]}, "legend": {"title": null}}}}
 ]}},
{"transform": [{"filter": "datum.m=='B'"}],
 "facet": {"column": {"field": "p", "type": "ordinal", "header": {"labels": false, "title": null}}},
 "spacing": 4, "bounds": "flush", "resolve": {"scale": {"x": "independent"}},
 "spec": {"width": 200.7, "height": 74, "layer": [
  {"transform": [{"filter": "datum.s=='Clear sky, all data' && datum.c=='Q'"}], "mark": {"type": "rect", "fill": "#dcdcdc", "clip": true},
   "encoding": {"x": {"field": "c", "type": "nominal", "scale": {"paddingInner": 0, "paddingOuter": 0}, "axis": null}, "y": {"datum": -1000, "type": "quantitative", "scale": {"domain": [-0.34, 0.67]}, "axis": {"values": [0, 0.5], "format": ".1f", "title": ["Bias", "[10¹¹ cm⁻³]"], "titleX": -50}}, "y2": {"datum": 1000}}},
  {"transform": [{"filter": "datum.s=='Clear sky, all data' && datum.c!='Q' && !(datum.c=='P' && datum.p<'4')"}], "mark": {"type": "rule", "color": "#d0d0d0", "strokeWidth": 1.5},
   "encoding": {"x": {"field": "c", "type": "nominal", "bandPosition": 1, "scale": {"paddingInner": 0, "paddingOuter": 0}, "axis": null}}},
  {"transform": [{"filter": "datum.s=='Clear sky, all data' && datum.c=='A'"}], "mark": {"type": "rule", "color": "#111111", "strokeWidth": 1.6, "strokeDash": [5.5, 3.5]},
   "encoding": {"y": {"datum": 0, "type": "quantitative", "scale": {"domain": [-0.34, 0.67]}, "axis": {"values": [0, 0.5], "format": ".1f", "title": ["Bias", "[10¹¹ cm⁻³]"], "titleX": -50}}}},
  {"transform": [{"filter": {"field": "v", "valid": true}}], "mark": {"type": "circle", "opacity": 1, "strokeWidth": 1.2, "clip": true},
   "encoding": {"x": {"field": "c", "type": "nominal", "scale": {"paddingInner": 0, "paddingOuter": 0}, "axis": null},
    "y": {"field": "v", "type": "quantitative", "scale": {"domain": [-0.34, 0.67]}, "axis": {"values": [0, 0.5], "format": ".1f", "title": ["Bias", "[10¹¹ cm⁻³]"], "titleX": -50}},
    "fill": {"field": "s", "type": "nominal", "scale": {"domain": ["Clear sky, valid data only", "Cloudy conditions, valid data only", "Clear sky, all data", "Cloudy conditions, all data"], "range": ["#3d9b0c", "#9b1b1c", "transparent", "transparent"]}, "legend": {"title": null}},
    "stroke": {"field": "s", "type": "nominal", "scale": {"domain": ["Clear sky, valid data only", "Cloudy conditions, valid data only", "Clear sky, all data", "Cloudy conditions, all data"], "range": ["transparent", "transparent", "#62b23c", "#b9504f"]}, "legend": {"title": null}},
    "size": {"field": "s", "type": "nominal", "scale": {"domain": ["Clear sky, valid data only", "Cloudy conditions, valid data only", "Clear sky, all data", "Cloudy conditions, all data"], "range": [22, 22, 72, 72]}, "legend": {"title": null}}}}
 ]}},
{"transform": [{"filter": "datum.m=='N'"}],
 "facet": {"column": {"field": "p", "type": "ordinal", "header": {"labels": false, "title": null}}},
 "spacing": 4, "bounds": "flush", "resolve": {"scale": {"x": "independent"}},
 "spec": {"width": 200.7, "height": 35, "layer": [
  {"transform": [{"filter": "datum.s=='Clear sky, all data' && datum.c=='Q'"}], "mark": {"type": "rect", "fill": "#dcdcdc", "clip": true},
   "encoding": {"x": {"field": "c", "type": "nominal", "scale": {"paddingInner": 0, "paddingOuter": 0},
      "axis": {"title": null, "labelAngle": -90, "labelFontSize": 12, "labelPadding": 3, "labelOverlap": false, "tickSize": 4,
       "labelExpr": "['AUTHᵒ','BIRAᵒ','INTAᵒ','AIOFMᵒ','BSUᵒ','CMAᵒ','MPICᵒ','IUPHDᵒ','UTORᵒ','IUPBᵒ','LMUᵒ','BIRAᵒ','NASAᵃ','KNMIᵖ','MPIC-1.0ᵖ','MPIC-0.8ᵖ','MEDIAN'][indexof('ABCDEFGHIJKLMNOPQ', datum.value)]",
       "labelColor": {"condition": [
         {"test": "indexof('ABC', datum.value) >= 0", "value": "#1f77b4"},
         {"test": "indexof('DEFG', datum.value) >= 0", "value": "#ff7f0e"},
         {"test": "indexof('HI', datum.value) >= 0", "value": "#2ca02c"},
         {"test": "datum.value == 'J'", "value": "#d62728"},
         {"test": "datum.value == 'K'", "value": "#9467bd"},
         {"test": "datum.value == 'L'", "value": "#8c564b"},
         {"test": "datum.value == 'M'", "value": "#7f7f7f"},
         {"test": "datum.value == 'N'", "value": "#e377c2"},
         {"test": "indexof('OP', datum.value) >= 0", "value": "#bcbd22"}], "value": "#000000"}}},
    "y": {"datum": -1000, "type": "quantitative", "scale": {"domain": [0, 108.6]}, "axis": {"values": [0, 100], "format": "d", "title": "N", "titleX": -33}}, "y2": {"datum": 1000}}},
  {"transform": [{"filter": "datum.s=='Clear sky, all data' && datum.c!='Q' && !(datum.c=='P' && datum.p<'4')"}], "mark": {"type": "rule", "color": "#d0d0d0", "strokeWidth": 1.5},
   "encoding": {"x": {"field": "c", "type": "nominal", "bandPosition": 1, "scale": {"paddingInner": 0, "paddingOuter": 0},
      "axis": {"title": null, "labelAngle": -90, "labelFontSize": 12, "labelPadding": 3, "labelOverlap": false, "tickSize": 4,
       "labelExpr": "['AUTHᵒ','BIRAᵒ','INTAᵒ','AIOFMᵒ','BSUᵒ','CMAᵒ','MPICᵒ','IUPHDᵒ','UTORᵒ','IUPBᵒ','LMUᵒ','BIRAᵒ','NASAᵃ','KNMIᵖ','MPIC-1.0ᵖ','MPIC-0.8ᵖ','MEDIAN'][indexof('ABCDEFGHIJKLMNOPQ', datum.value)]",
       "labelColor": {"condition": [
         {"test": "indexof('ABC', datum.value) >= 0", "value": "#1f77b4"},
         {"test": "indexof('DEFG', datum.value) >= 0", "value": "#ff7f0e"},
         {"test": "indexof('HI', datum.value) >= 0", "value": "#2ca02c"},
         {"test": "datum.value == 'J'", "value": "#d62728"},
         {"test": "datum.value == 'K'", "value": "#9467bd"},
         {"test": "datum.value == 'L'", "value": "#8c564b"},
         {"test": "datum.value == 'M'", "value": "#7f7f7f"},
         {"test": "datum.value == 'N'", "value": "#e377c2"},
         {"test": "indexof('OP', datum.value) >= 0", "value": "#bcbd22"}], "value": "#000000"}}}}},
  {"transform": [{"filter": {"field": "v", "valid": true}}], "mark": {"type": "circle", "opacity": 1, "strokeWidth": 1.2, "clip": true},
   "encoding": {"x": {"field": "c", "type": "nominal", "scale": {"paddingInner": 0, "paddingOuter": 0},
      "axis": {"title": null, "labelAngle": -90, "labelFontSize": 12, "labelPadding": 3, "labelOverlap": false, "tickSize": 4,
       "labelExpr": "['AUTHᵒ','BIRAᵒ','INTAᵒ','AIOFMᵒ','BSUᵒ','CMAᵒ','MPICᵒ','IUPHDᵒ','UTORᵒ','IUPBᵒ','LMUᵒ','BIRAᵒ','NASAᵃ','KNMIᵖ','MPIC-1.0ᵖ','MPIC-0.8ᵖ','MEDIAN'][indexof('ABCDEFGHIJKLMNOPQ', datum.value)]",
       "labelColor": {"condition": [
         {"test": "indexof('ABC', datum.value) >= 0", "value": "#1f77b4"},
         {"test": "indexof('DEFG', datum.value) >= 0", "value": "#ff7f0e"},
         {"test": "indexof('HI', datum.value) >= 0", "value": "#2ca02c"},
         {"test": "datum.value == 'J'", "value": "#d62728"},
         {"test": "datum.value == 'K'", "value": "#9467bd"},
         {"test": "datum.value == 'L'", "value": "#8c564b"},
         {"test": "datum.value == 'M'", "value": "#7f7f7f"},
         {"test": "datum.value == 'N'", "value": "#e377c2"},
         {"test": "indexof('OP', datum.value) >= 0", "value": "#bcbd22"}], "value": "#000000"}}},
    "y": {"field": "v", "type": "quantitative", "scale": {"domain": [0, 108.6]}, "axis": {"values": [0, 100], "format": "d", "title": "N", "titleX": -33}},
    "fill": {"field": "s", "type": "nominal", "scale": {"domain": ["Clear sky, valid data only", "Cloudy conditions, valid data only", "Clear sky, all data", "Cloudy conditions, all data"], "range": ["#3d9b0c", "#9b1b1c", "transparent", "transparent"]}, "legend": {"title": null}},
    "stroke": {"field": "s", "type": "nominal", "scale": {"domain": ["Clear sky, valid data only", "Cloudy conditions, valid data only", "Clear sky, all data", "Cloudy conditions, all data"], "range": ["transparent", "transparent", "#62b23c", "#b9504f"]}, "legend": {"title": null}},
    "size": {"field": "s", "type": "nominal", "scale": {"domain": ["Clear sky, valid data only", "Cloudy conditions, valid data only", "Clear sky, all data", "Cloudy conditions, all data"], "range": [22, 22, 72, 72]}, "legend": {"title": null}}}}
 ]}}
],
"config": {
 "font": "DejaVu Sans",
 "view": {"stroke": "#3a3a3a", "strokeWidth": 1.4},
 "axis": {"labelFontSize": 12, "titleFontSize": 12.5, "titleFontWeight": "normal", "labelColor": "#222222", "titleColor": "#222222", "tickColor": "#333333", "tickSize": 4, "domain": false, "grid": false},
 "axisY": {"titleLineHeight": 17, "labelPadding": 2},
 "legend": {"orient": "none", "legendX": 62, "legendY": 548, "direction": "horizontal", "labelFontSize": 15.5, "labelColor": "#222222", "strokeColor": "#cccccc", "fillColor": "#ffffff", "padding": 9, "cornerRadius": 4, "columnPadding": 38, "labelOffset": 14, "symbolStrokeWidth": 1.2, "labelLimit": 400}
}
}
